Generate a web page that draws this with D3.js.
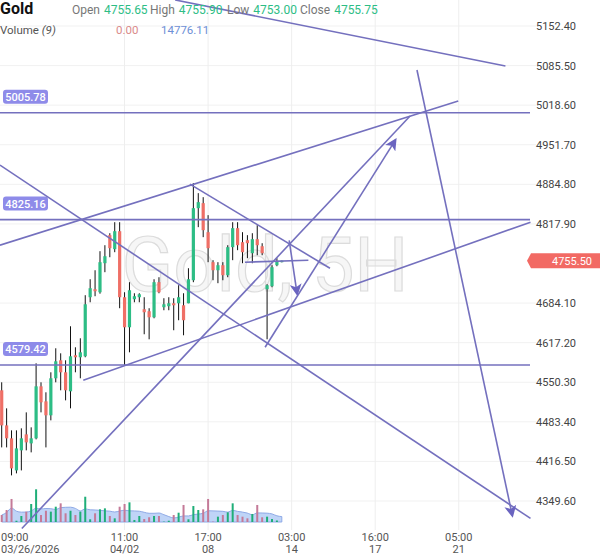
<!DOCTYPE html>
<html>
<head>
<meta charset="utf-8">
<script src="https://cdn.jsdelivr.net/npm/d3@7"></script>
<style>
  body { margin: 0; background: #fff; font-family: Roboto, "Noto Sans", sans-serif; }
  svg text { font-family: Roboto, "Noto Sans", sans-serif; }
</style>
</head>
<body>
<div id="chart"></div>
<script>
// set svg
var width = 600,
    height = 558

// ---- data ----
const opens  = [4536.7,4477.4,4455.5,4401.3,4435.2,4462.2,4447.0,4455.5,4543.4,4518.0,
                4494.4,4557.0,4587.4,4567.1,4535.0,4595.9,4592.5,4594.2,4694.0,4707.5,
                4702.4,4751.5,4798.9,4775.2,4805.6,4694.0,4643.2,4690.6,4694.0,4673.7,
                4670.3,4660.1,4719.4,4677.1,4678.8,4683.8,4683.8,4680.4,4683.8,4722.7,
                4844.5,4853.0,4803.9,4753.2,4739.6,4748.1,4731.2,4778.6,4810.7,4787.0,
                4790.4,4768.4,4792.1,4780.2,4707.5,4712.6,4748.1,4755.65]
const highs  = [4550.2,4506.2,4469.0,4469.0,4472.4,4499.4,4474.1,4582.3,4550.2,4533.3,
                4567.1,4607.7,4599.2,4587.4,4644.9,4609.4,4624.6,4697.4,4724.4,4739.6,
                4771.8,4781.9,4802.2,4820.8,4820.8,4702.4,4719.4,4700.7,4700.7,4694.0,
                4675.4,4724.4,4727.8,4692.3,4694.0,4692.3,4714.3,4700.7,4743.0,4886.8,
                4869.9,4863.1,4832.7,4756.6,4753.2,4753.2,4781.9,4820.8,4820.8,4803.9,
                4798.9,4802.2,4815.8,4785.3,4716.0,4748.1,4760.0,4755.90]
const lows   = [4440.2,4440.2,4392.9,4396.3,4401.3,4435.2,4431.8,4453.8,4499.4,4440.2,
                4485.9,4550.2,4536.7,4519.7,4506.2,4567.1,4557.0,4592.5,4685.5,4695.7,
                4700.0,4736.3,4761.6,4770.1,4675.4,4579.0,4600.9,4685.5,4685.5,4631.4,
                4622.9,4658.4,4700.7,4672.0,4672.0,4638.2,4655.1,4629.7,4683.8,4719.4,
                4812.4,4795.5,4753.2,4722.7,4717.7,4722.7,4727.8,4756.6,4773.5,4751.5,
                4760.0,4751.5,4765.0,4765.0,4622.9,4710.9,4746.4,4753.00]
const closes = [4477.4,4455.5,4404.7,4438.5,4455.5,4448.7,4455.5,4543.4,4516.4,4494.4,
                4557.0,4585.7,4567.1,4536.7,4594.2,4592.5,4600.9,4682.1,4709.2,4704.1,
                4753.2,4763.3,4776.9,4805.6,4694.0,4643.2,4705.8,4695.7,4699.0,4668.6,
                4660.1,4719.4,4702.4,4682.1,4683.8,4680.4,4694.0,4655.1,4724.4,4844.5,
                4854.7,4807.3,4776.9,4739.6,4748.1,4731.2,4778.6,4810.7,4781.9,4770.1,
                4785.3,4792.1,4781.9,4768.4,4714.3,4744.7,4754.9,4755.75]
const volumes = [9300,16000,30700,1700,8000,13800,24000,43600,9300,15000,
                 13800,20400,24900,11600,15000,9300,13800,33700,3600,11600,
                 16900,18200,8000,4900,20400,24000,26200,2700,8000,4000,
                 6300,8000,8000,500,1700,9300,12400,22700,3600,21300,
                 16000,16900,30700,500,7100,9300,12900,24900,9300,7100,
                 4900,10700,22700,6300,7100,4000,2000,0]

// price axis ticks
const priceTicks = [5152.40,5085.50,5018.60,4951.70,4884.80,4817.90,4684.10,4617.20,4550.30,4483.40,4416.50,4349.60]
// time axis ticks (candle index, two-line label)
const timeTickIdx = [0, 25, 42, 59, 76, 93]
const timeTop = ["09:00","11:00","17:00","03:00","16:00","05:00"]
const timeBottom = ["03/26/2026","04/02","08","14","17","21"]

// horizontal levels
const levels = [5005.78, 4825.16, 4579.42]

// drawn trend lines [i1, p1, i2, p2, arrow]
const trendLines = [
  [35.3, 5196.4, 102.5, 5084.7, false],
  [-0.35, 4781.9, 92.9, 5025.5, false],
  [-0.35, 4917.3, 107.6, 4320.1, false],
  [38.3, 4885.1, 66.8, 4743.0, false],
  [16.6, 4553.6, 107.6, 4820.8, false],
  [4.1, 4303.2, 83.1, 5000.2, false],
  [53.6, 4609.4, 80.1, 4959.6, true],
  [49.5, 4753.2, 62.4, 4756.6, false],
  [58.5, 4790.0, 60.1, 4700.0, true],
  [84.5, 5078.0, 103.9, 4325.2, true]
]

const lastPrice = 4755.50

// ---- layout ----
const plotRight = 530

const svg = d3.select("#chart")
  .append("svg")
    .attr("width", width)
    .attr("height", height)

const x = d3.scaleLinear()
    .domain([0, 107.5])
    .range([1.7, plotRight])

const y = d3.scaleLinear()
    .domain([4349.6, 5152.4])
    .range([501, 26])

const vy = d3.scaleLinear()
    .domain([0, 80000])
    .range([522, 462])

const green = "#2dbd85",
      red = "#ef6f66",
      lineColor = "#7470be"

// grid
svg.append("g")
  .selectAll("line")
  .data(priceTicks)
  .join("line")
    .attr("x1", 0).attr("x2", 536)
    .attr("y1", d => y(d)).attr("y2", d => y(d))
    .attr("stroke", "#f1f1f1")

svg.append("g")
  .selectAll("line")
  .data(timeTickIdx.slice(1))
  .join("line")
    .attr("x1", d => x(d)).attr("x2", d => x(d))
    .attr("y1", 0).attr("y2", 530)
    .attr("stroke", "#eeeeee")

// watermark
svg.append("text")
    .attr("x", 265)
    .attr("y", 291)
    .attr("text-anchor", "middle")
    .attr("font-size", 76)
    .attr("fill", "#000")
    .attr("fill-opacity", 0.035)
    .attr("stroke", "#dcdcdc")
    .attr("stroke-width", 1.2)
    .text("Gold, 5H")

// volume MA(9) area
const idx = d3.range(volumes.length)
const volMA = idx.map(i => d3.mean(volumes.slice(Math.max(0, i - 8), i + 1)))

svg.append("path")
  .datum(idx)
    .attr("fill", "#b4cdf6")
    .attr("fill-opacity", 0.85)
    .attr("stroke", "#8ea9e6")
    .attr("stroke-width", 1)
    .attr("d", d3.area()
      .x(i => x(i))
      .y0(vy(0))
      .y1(i => vy(volMA[i]))
      .curve(d3.curveMonotoneX))

// volume bars
svg.append("g")
  .selectAll("rect")
  .data(idx)
  .join("rect")
    .attr("x", i => x(i) - 1)
    .attr("width", 2)
    .attr("y", i => vy(volumes[i]))
    .attr("height", i => vy(0) - vy(volumes[i]))
    .attr("fill", i => closes[i] >= opens[i] ? "#1fae78" : "#c47a98")

// candles
const candle = svg.append("g")
  .selectAll("g")
  .data(idx)
  .join("g")

candle.append("line")
    .attr("x1", i => x(i)).attr("x2", i => x(i))
    .attr("y1", i => y(highs[i])).attr("y2", i => y(lows[i]))
    .attr("stroke", "#111")
    .attr("stroke-width", 1)

candle.append("rect")
    .attr("x", i => x(i) - 1.6)
    .attr("width", 3.2)
    .attr("y", i => y(Math.max(opens[i], closes[i])))
    .attr("height", i => Math.max(1.5, Math.abs(y(opens[i]) - y(closes[i]))))
    .attr("fill", i => closes[i] >= opens[i] ? green : red)

// horizontal levels
svg.append("g")
  .selectAll("line")
  .data(levels)
  .join("line")
    .attr("x1", 0).attr("x2", plotRight)
    .attr("y1", d => y(d)).attr("y2", d => y(d))
    .attr("stroke", lineColor)
    .attr("stroke-width", 1.6)

const levelLabel = svg.append("g")
  .selectAll("g")
  .data(levels)
  .join("g")
    .attr("transform", d => `translate(3,${y(d) - 23})`)

levelLabel.append("rect")
    .attr("width", 45).attr("height", 14).attr("rx", 3)
    .attr("fill", "#8e8be9")

levelLabel.append("text")
    .attr("x", 22.5).attr("y", 11)
    .attr("text-anchor", "middle")
    .attr("font-size", 11)
    .attr("font-weight", 500)
    .attr("fill", "#fff")
    .text(d => d.toFixed(2))

// trend lines
svg.append("defs").append("marker")
    .attr("id", "arrow")
    .attr("viewBox", "0 0 10 10")
    .attr("refX", 8).attr("refY", 5)
    .attr("markerWidth", 13).attr("markerHeight", 12)
    .attr("markerUnits", "userSpaceOnUse")
    .attr("orient", "auto")
  .append("path")
    .attr("d", "M0,0L10,5L0,10L2.5,5z")
    .attr("fill", "#6a64c0")

svg.append("g")
  .selectAll("line")
  .data(trendLines)
  .join("line")
    .attr("x1", d => x(d[0])).attr("y1", d => y(d[1]))
    .attr("x2", d => x(d[2])).attr("y2", d => y(d[3]))
    .attr("stroke", lineColor)
    .attr("stroke-width", 1.6)
    .attr("marker-end", d => d[4] ? "url(#arrow)" : null)

// price axis
const yAxis = svg.append("g")
    .attr("transform", `translate(${plotRight},0)`)
    .call(d3.axisRight(y).tickValues(priceTicks).tickFormat(d3.format(".2f")).tickSize(0).tickPadding(6))

yAxis.select(".domain").remove()
yAxis.selectAll("text")
    .attr("font-size", 11)
    .attr("fill", "#444")

// last price tag
const tag = svg.append("g")
    .attr("transform", `translate(0,${y(lastPrice)})`)

tag.append("path")
    .attr("d", `M${plotRight - 3},0L${plotRight + 1},-7.5H600V7.5H${plotRight + 1}Z`)
    .attr("fill", "#f26a64")

tag.append("text")
    .attr("x", 572).attr("y", 4)
    .attr("text-anchor", "middle")
    .attr("font-size", 11)
    .attr("fill", "#fff")
    .text(lastPrice.toFixed(2))

// time axis
const tg = svg.append("g")
  .selectAll("g")
  .data(timeTickIdx)
  .join("g")

tg.append("text")
    .attr("x", (d, k) => k === 0 ? 1 : x(d))
    .attr("y", 541)
    .attr("text-anchor", (d, k) => k === 0 ? "start" : "middle")
    .attr("font-size", 11)
    .attr("fill", "#555")
    .text((d, k) => timeTop[k])

tg.append("text")
    .attr("x", (d, k) => k === 0 ? 1 : x(d))
    .attr("y", 553)
    .attr("text-anchor", (d, k) => k === 0 ? "start" : "middle")
    .attr("font-size", 11)
    .attr("fill", "#555")
    .text((d, k) => timeBottom[k])

// header
const head = svg.append("text")
    .attr("x", 0)
    .attr("y", 14)
    .attr("font-size", 12)

head.append("tspan").attr("font-size", 16).attr("font-weight", 700).attr("fill", "#111").text("Gold")
const ohlc = [["Open", opens], ["High", highs], ["Low", lows], ["Close", closes]]
const ohlcX = [72, 150, 227, 300]
ohlc.forEach(function(o, k) {
  head.append("tspan").attr("x", ohlcX[k]).attr("fill", "#777").text(o[0])
  head.append("tspan").attr("dx", 4).attr("fill", green).text(o[1][o[1].length - 1].toFixed(2))
})

const vhead = svg.append("text")
    .attr("x", 0)
    .attr("y", 34)
    .attr("font-size", 11.5)
    .attr("fill", "#555")

vhead.append("tspan").text("Volume ")
vhead.append("tspan").attr("font-style", "italic").text("(9)")
vhead.append("tspan").attr("x", 116).attr("fill", "#d98a8a").text(volumes[volumes.length - 1].toFixed(2))
vhead.append("tspan").attr("x", 161).attr("fill", "#6d8fd6").text("14776.11")
</script>
</body>
</html>
